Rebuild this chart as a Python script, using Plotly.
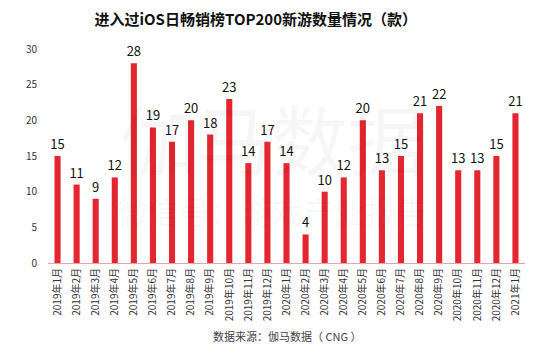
import plotly.graph_objects as go

months = ["2019年1月", "2019年2月", "2019年3月", "2019年4月", "2019年5月", "2019年6月",
          "2019年7月", "2019年8月", "2019年9月", "2019年10月", "2019年11月", "2019年12月",
          "2020年1月", "2020年2月", "2020年3月", "2020年4月", "2020年5月", "2020年6月",
          "2020年7月", "2020年8月", "2020年9月", "2020年10月", "2020年11月", "2020年12月",
          "2021年1月"]
counts = [15, 11, 9, 12, 28, 19, 17, 20, 18, 23, 14, 17, 14, 4, 10, 12, 20, 13, 15, 21,
          22, 13, 13, 15, 21]
y_ticks = [0, 5, 10, 15, 20, 25, 30]

font_family = "Noto Sans CJK SC, Noto Sans, sans-serif"

fig = go.Figure(go.Bar(
    x=months, y=counts,
    marker=dict(color="#E3262F", line=dict(width=0)),
    width=0.32,
    text=[str(v) for v in counts],
    textposition="outside",
    constraintext="none",
    textfont=dict(size=13, color="#111111", family=font_family),
    cliponaxis=False,
))

plot_h = 354 - 49 - 91

fig.update_layout(
    width=550, height=354,
    margin=dict(l=48, r=25, t=49, b=91),
    paper_bgcolor="white", plot_bgcolor="white",
    showlegend=False,
    font=dict(family=font_family),
    title=dict(text="<b>进入过iOS日畅销榜TOP200新游数量情况（款）</b>",
               x=0.465, xanchor="center", y=1 - 20 / 354, yanchor="middle",
               font=dict(size=15, color="#111111", family=font_family)),
    xaxis=dict(tickangle=-90, tickfont=dict(size=10, color="#333333"),
               showline=True, linecolor="#E9A3A6", linewidth=1,
               ticks="", showgrid=False, range=[-0.5, 24.5]),
    yaxis=dict(range=[0, 30], tickvals=y_ticks, showgrid=False, zeroline=False,
               showline=False, ticks="", tickfont=dict(size=10, color="#333333"),
               ticklabelstandoff=10),
    annotations=[
        dict(text="伽马数据", x=0.47, y=(263 - 137) / plot_h, xref="paper", yref="paper",
             showarrow=False, yanchor="middle",
             font=dict(size=76, color="rgba(0,0,0,0.035)")),
        dict(text="微信号：游戏产业报告", x=0.47, y=(263 - 210) / plot_h, xref="paper", yref="paper",
             showarrow=False, yanchor="middle",
             font=dict(size=31, color="rgba(0,0,0,0.035)")),
        dict(text="数据来源：伽马数据（ CNG ）", x=0.5, y=-(336 - 263) / plot_h,
             xref="paper", yref="paper", yanchor="middle",
             showarrow=False, font=dict(size=11, color="#444444")),
    ],
)

fig.write_html("out.html")
